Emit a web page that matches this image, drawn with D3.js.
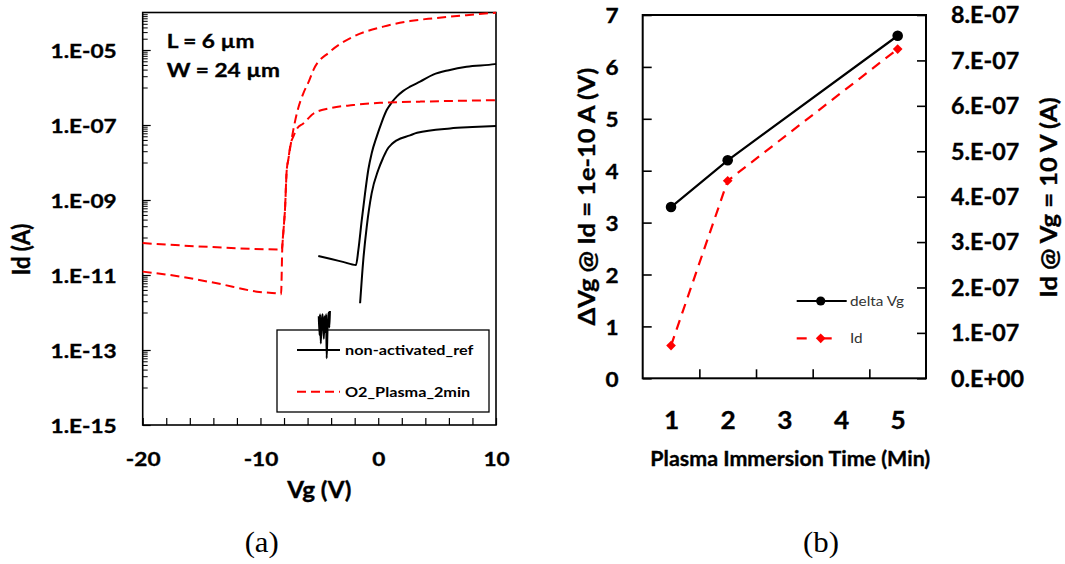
<!DOCTYPE html>
<html>
<head>
<meta charset="utf-8">
<script src="https://cdn.jsdelivr.net/npm/d3@7"></script>
<style>
  body { margin: 0; background: #fff; }
  svg { display: block; }
  text { font-family: Lato, "Open Sans", sans-serif; fill: #000; }
  .heavy { stroke: #000; stroke-width: 0.35px; paint-order: stroke; }
</style>
</head>
<body>
<svg id="fig" width="1065" height="564"></svg>
<script>
// ---------- Panel (a): transfer curves, Id vs Vg ----------
// non-activated reference, high drain bias
const refHiVg = [-5.09, -4.0, -3.0, -1.89, -1.69, -1.40, -1.12, -0.84, -0.55, -0.13, 0.30, 0.72, 1.15, 1.57, 2.10, 2.70, 3.55, 4.67, 6.0, 7.5, 9.9, 10];
const refHiId = [3.2e-11, 2.66e-11, 2.24e-11, 1.85e-11, 4.6e-11, 2.9e-10, 1.5e-9, 6.5e-9, 1.8e-8, 4.9e-8, 1.2e-7, 2.5e-7, 4.0e-7, 5.7e-7, 8.0e-7, 1.05e-6, 1.43e-6, 2.2e-6, 2.9e-6, 3.6e-6, 4.2e-6, 4.25e-6];
// non-activated reference, low drain bias (noisy start, then gap)
const refLoVg = [-5.05, -4.98, -4.94, -4.88, -4.80, -4.72, -4.62, -4.55, -4.48, -4.42, -4.38, -4.30, -4.22, -4.15, -4.10, -3.0,
                 -1.54, -1.27, -0.98, -0.56, 0.0, 0.40, 0.75, 1.15, 1.57, 2.70, 3.30, 6.1, 8.0, 10];
const refLoId = [8e-13, 2.5e-13, 9e-13, 1.5e-13, 6e-13, 9e-13, 2e-13, 8e-13, 3e-13, 9e-13, 6e-14, 4e-13, 1.0e-12, 4e-13, 1.1e-12, null,
                 1.76e-12, 2.5e-11, 1.9e-10, 1.5e-9, 6.3e-9, 1.3e-8, 2.2e-8, 3.1e-8, 3.9e-8, 5.3e-8, 6.2e-8, 8.1e-8, 8.8e-8, 9.4e-8];
// O2 plasma 2 min, high drain bias
const o2HiVg = [-20, -14.3, -8.2, -8.05, -7.92, -7.77, -7.64, -7.21, -6.9, -6.36, -5.9, -5.51, -4.10, -2.12, 0.43, 2.70, 4.67, 7.5, 10];
const o2HiId = [7.1e-11, 5.6e-11, 4.8e-11, 1.5e-10, 5.4e-10, 6.3e-9, 1.17e-8, 7.4e-8, 2.1e-7, 7.0e-7, 1.43e-6, 2.9e-6, 9.0e-6, 2.26e-5, 4.2e-5, 5.9e-5, 7.0e-5, 8.5e-5, 9.9e-5];
// O2 plasma 2 min, low drain bias
const o2LoVg = [-20, -17.7, -13.7, -10.3, -8.34, -8.25, -8.15, -8.05, -7.92, -7.77, -7.64, -7.45, -7.21, -6.9, -6.36, -5.51, -4.10, -2.12, 0.15, 3.55, 10];
const o2LoId = [1.23e-11, 1.0e-11, 6.0e-12, 3.6e-12, 3.1e-12, 3.05e-12, 5.0e-11, 1.5e-10, 5.4e-10, 6.3e-9, 1.17e-8, 3.0e-8, 4.9e-8, 8.0e-8, 1.1e-7, 2.0e-7, 2.8e-7, 3.4e-7, 3.9e-7, 4.2e-7, 4.6e-7];

const seriesA = ["non-activated_ref", "O2_Plasma_2min"];
const vgTicks = [-20, -18, -16, -14, -12, -10, -8, -6, -4, -2, 0, 2, 4, 6, 8, 10];
const vgLabels = [-20, -10, 0, 10];
const idDecades = [-15, -13, -11, -9, -7, -5];

// ---------- Panel (b): summary vs plasma time ----------
const plasmaTime = [1, 2, 5];
const deltaVg = [3.3, 4.2, 6.6];
const idAtVg10 = [0.72e-7, 4.35e-7, 7.25e-7];
const timeTicks = [1, 2, 3, 4, 5];
const dvTicks = [0, 1, 2, 3, 4, 5, 6, 7];
const idTicks = [0, 1e-7, 2e-7, 3e-7, 4e-7, 5e-7, 6e-7, 7e-7, 8e-7];
const seriesB = ["delta Vg", "Id"];

const svg = d3.select("#fig");
const RED = "#ff0000";

// widen glyphs horizontally around each text's own anchor
function widen(sel, s) {
  sel.each(function () {
    const t = d3.select(this);
    const x = +(t.attr("x") || 0), y = +(t.attr("y") || 0);
    const rest = t.attr("data-rot") ? ` rotate(${t.attr("data-rot")})` : "";
    t.attr("x", 0).attr("y", 0).attr("transform", `translate(${x},${y}) scale(${s},1)${rest}`);
  });
}

// ================= Panel (a) =================
const ax = d3.scaleLinear([-20, 10], [142.7, 496]);
const ay = d3.scaleLog([1e-15, 1e-4], [425, 12.5]);
const gA = svg.append("g");

// log tick marks: labelled decade plus nine ticks of the decade below it
const minorTicks = [];
idDecades.forEach(e => { for (let k = 1; k <= 9; k++) if (e - 1 >= -15) minorTicks.push(k * Math.pow(10, e - 1)); });
minorTicks.push(...d3.range(1, 10).map(k => k * 1e-5).filter(v => v <= 1e-4));

gA.append("g").attr("transform", "translate(142.7,0)")
  .call(d3.axisLeft(ay).tickValues(minorTicks).tickSize(-5).tickFormat(""))
  .call(g => g.select(".domain").remove())
  .call(g => g.selectAll("line").attr("stroke-width", 1));

const yAxA = gA.append("g").attr("transform", "translate(142.7,0)")
  .call(d3.axisLeft(ay).tickValues(idDecades.map(e => Math.pow(10, e))).tickSize(-8).tickPadding(26)
    .tickFormat(v => "1.E-" + String(-Math.round(Math.log10(v))).padStart(2, "0")));
yAxA.select(".domain").remove();
yAxA.selectAll("line").attr("stroke-width", 1.2);
yAxA.selectAll("text").attr("font-size", 19.5).attr("font-weight", 700).attr("fill", "#000")
  .attr("font-family", "Lato").attr("dy", "0.36em").attr("class", "heavy");
widen(yAxA.selectAll("text"), 1.16);

const xAxA = gA.append("g").attr("transform", "translate(0,425)")
  .call(d3.axisBottom(ax).tickValues(vgTicks).tickSize(-7).tickPadding(27)
    .tickFormat(v => vgLabels.includes(v) ? String(v) : ""));
xAxA.select(".domain").remove();
xAxA.selectAll("line").attr("stroke-width", 1.2);
xAxA.selectAll("text").attr("font-size", 19.5).attr("font-weight", 700).attr("fill", "#000")
  .attr("font-family", "Lato").attr("class", "heavy");
widen(xAxA.selectAll("text"), 1.16);

gA.append("rect").attr("x", ax(-20)).attr("y", ay(1e-4)).attr("width", ax(10) - ax(-20)).attr("height", ay(1e-15) - ay(1e-4))
  .attr("fill", "none").attr("stroke", "#000").attr("stroke-width", 1.6);

// legend box (no fill, curves pass over it)
const legA = gA.append("g");
legA.append("rect").attr("x", 277).attr("y", 330).attr("width", 212).attr("height", 82)
  .attr("fill", "none").attr("stroke", "#000").attr("stroke-width", 1.3);
[[350, "#000", null], [391.7, RED, "9,5"]].forEach(([ly, c, dash], i) => {
  legA.append("line").attr("x1", 297).attr("x2", 340).attr("y1", ly).attr("y2", ly)
    .attr("stroke", c).attr("stroke-width", 2).attr("stroke-dasharray", dash);
  legA.append("text").attr("x", 345).attr("y", ly).attr("dy", "0.36em").attr("font-size", 14)
    .attr("font-weight", 700).text(seriesA[i]);
});
widen(legA.selectAll("text"), 1.16);

// curves
const lineA = d3.line().defined(d => d[1] != null).x(d => ax(d[0])).y(d => ay(d[1])).curve(d3.curveMonotoneX);
const curvesA = [
  [refHiVg, refHiId, "#000", null],
  [refLoVg, refLoId, "#000", null],
  [o2HiVg, o2HiId, RED, "9,5"],
  [o2LoVg, o2LoId, RED, "9,5"]
];
curvesA.forEach(([vg, id, c, dash]) => {
  gA.append("path").datum(d3.zip(vg, id)).attr("d", lineA)
    .attr("fill", "none").attr("stroke", c).attr("stroke-width", 2)
    .attr("stroke-dasharray", dash).attr("stroke-linejoin", "round");
});

// device geometry annotation
const ann = gA.append("g");
ann.append("text").attr("x", 166.7).attr("y", 47.5).attr("font-size", 19.5).attr("font-weight", 700).attr("class", "heavy").text("L = 6 µm");
ann.append("text").attr("x", 166.7).attr("y", 77).attr("font-size", 19.5).attr("font-weight", 700).attr("class", "heavy").text("W = 24 µm");
widen(ann.selectAll("text"), 1.16);

// axis titles
const tA = gA.append("g");
tA.append("text").attr("x", 319.3).attr("y", 490).attr("dy", "0.36em").attr("text-anchor", "middle")
  .attr("font-size", 22).attr("font-weight", 700).attr("class", "heavy").text("Vg (V)");
tA.append("text").attr("x", 21).attr("y", 249.5).attr("dy", "0.36em").attr("data-rot", -90).attr("text-anchor", "middle")
  .attr("font-size", 22).attr("font-weight", 700).attr("class", "heavy").text("Id (A)");
widen(tA.selectAll("text"), 1.1);

// ================= Panel (b) =================
const bx = d3.scaleLinear([0.5, 5.5], [642.7, 926]);
const byL = d3.scaleLinear([0, 7], [378.3, 15]);
const byR = d3.scaleLinear([0, 8e-7], [378.3, 15]);
const gB = svg.append("g");

const sciFmt = v => {
  if (v === 0) return "0.E+00";
  const e = Math.floor(Math.log10(v) + 1e-9);
  const m = Math.round(v / Math.pow(10, e));
  return m + ".E" + (e < 0 ? "-" : "+") + String(Math.abs(e)).padStart(2, "0");
};

const lAx = gB.append("g").attr("transform", `translate(${bx(0.5)},0)`)
  .call(d3.axisLeft(byL).tickValues(dvTicks).tickSize(-9).tickPadding(24).tickFormat(d3.format("d")));
const rAx = gB.append("g").attr("transform", `translate(${bx(5.5)},0)`)
  .call(d3.axisRight(byR).tickValues(idTicks).tickSize(-9).tickPadding(25).tickFormat(sciFmt));
const bAx = gB.append("g").attr("transform", `translate(0,${byL(0)})`)
  .call(d3.axisBottom(bx).tickValues([1.5, 2.5, 3.5, 4.5]).tickSize(-9).tickFormat(""));
const bLab = gB.append("g").attr("transform", `translate(0,${byL(0)})`)
  .call(d3.axisBottom(bx).tickValues(timeTicks).tickSize(0).tickPadding(33).tickFormat(d3.format("d")));
[lAx, rAx, bAx, bLab].forEach(a => a.select(".domain").remove());
bLab.selectAll("line").remove();
[lAx, rAx, bAx].forEach(a => a.selectAll("line").attr("stroke-width", 1.6));
lAx.selectAll("text").attr("font-size", 21.5).attr("font-weight", 700).attr("fill", "#000").attr("font-family", "Lato").attr("dy", "0.36em").attr("class", "heavy");
rAx.selectAll("text").attr("font-size", 22).attr("font-weight", 700).attr("fill", "#000").attr("font-family", "Lato").attr("dy", "0.36em").attr("class", "heavy");
bLab.selectAll("text").attr("font-size", 25).attr("font-weight", 700).attr("fill", "#000").attr("font-family", "Lato").attr("class", "heavy");
widen(lAx.selectAll("text"), 1.05);
widen(rAx.selectAll("text"), 1.06);
widen(bLab.selectAll("text"), 1.05);

gB.append("rect").attr("x", bx(0.5)).attr("y", byL(7)).attr("width", bx(5.5) - bx(0.5)).attr("height", byL(0) - byL(7))
  .attr("fill", "none").attr("stroke", "#000").attr("stroke-width", 2);

// series lines and markers
const lineL = d3.line().x((d, i) => bx(plasmaTime[i])).y(d => byL(d));
const lineR = d3.line().x((d, i) => bx(plasmaTime[i])).y(d => byR(d));
gB.append("path").datum(idAtVg10).attr("d", lineR).attr("fill", "none").attr("stroke", RED)
  .attr("stroke-width", 2.2).attr("stroke-dasharray", "10,7");
gB.append("path").datum(deltaVg).attr("d", lineL).attr("fill", "none").attr("stroke", "#000").attr("stroke-width", 2.2);
const diamond = d3.symbol().type(d3.symbolDiamond2).size(60);
gB.selectAll(".dia").data(idAtVg10).join("path").attr("class", "dia")
  .attr("transform", (d, i) => `translate(${bx(plasmaTime[i])},${byR(d)})`).attr("d", diamond).attr("fill", RED);
gB.selectAll(".dot").data(deltaVg).join("circle").attr("class", "dot")
  .attr("cx", (d, i) => bx(plasmaTime[i])).attr("cy", d => byL(d)).attr("r", 5.3).attr("fill", "#000");

// legend
const legB = gB.append("g");
legB.append("line").attr("x1", 796.7).attr("x2", 846.7).attr("y1", 301).attr("y2", 301).attr("stroke", "#000").attr("stroke-width", 2.2);
legB.append("circle").attr("cx", 820.7).attr("cy", 301).attr("r", 4.6).attr("fill", "#000");
legB.append("line").attr("x1", 796.7).attr("x2", 846.7).attr("y1", 338.3).attr("y2", 338.3).attr("stroke", RED)
  .attr("stroke-width", 2.2).attr("stroke-dasharray", "10,15");
legB.append("path").attr("transform", "translate(820.7,338.3)").attr("d", diamond).attr("fill", RED);
legB.append("text").attr("x", 850).attr("y", 301).attr("dy", "0.36em").attr("font-size", 14.2).style("fill", "#333").text(seriesB[0]);
legB.append("text").attr("x", 850).attr("y", 338.3).attr("dy", "0.36em").attr("font-size", 14.2).style("fill", "#333").text(seriesB[1]);
widen(legB.selectAll("text"), 1.08);

// axis titles
const xTitleB = gB.append("text").attr("x", 790.3).attr("y", 458.3).attr("dy", "0.36em").attr("text-anchor", "middle")
  .attr("font-size", 20.8).attr("font-weight", 700).attr("class", "heavy").text("Plasma Immersion Time (Min)");
widen(xTitleB, 1.03);
const yTitlesB = gB.append("g");
yTitlesB.append("text").attr("x", 587).attr("y", 196.7).attr("dy", "0.36em").attr("data-rot", -90).attr("text-anchor", "middle")
  .attr("font-size", 25.5).attr("font-weight", 700).attr("class", "heavy").text("ΔVg @ Id = 1e-10 A (V)");
yTitlesB.append("text").attr("x", 1049).attr("y", 197.5).attr("dy", "0.36em").attr("data-rot", -90).attr("text-anchor", "middle")
  .attr("font-size", 25.5).attr("font-weight", 700).attr("class", "heavy").text("Id @ Vg = 10 V (A)");
widen(yTitlesB.selectAll("text"), 0.92);

// panel captions
const caps = svg.append("g");
caps.append("text").attr("x", 261.7).attr("y", 543).attr("dy", "0.33em").attr("text-anchor", "middle")
  .style("font-family", "'Liberation Serif', serif").attr("font-size", 28.5).text("(a)");
caps.append("text").attr("x", 821).attr("y", 543).attr("dy", "0.33em").attr("text-anchor", "middle")
  .style("font-family", "'Liberation Serif', serif").attr("font-size", 28.5).text("(b)");
widen(caps.selectAll("text"), 1.08);
</script>
</body>
</html>
